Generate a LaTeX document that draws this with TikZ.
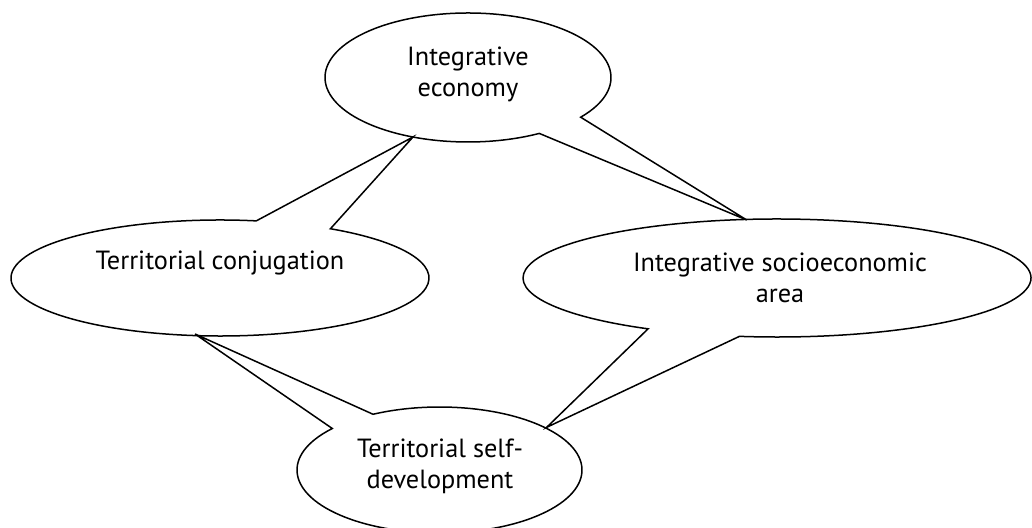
\documentclass[tikz,border=0pt]{standalone}
\usepackage{fontspec}
\setmainfont{PT Sans}
\begin{document}
\begin{tikzpicture}[x=1pt,y=1pt,
  bubble/.style={draw=black,line width=1.5pt,line join=miter},
  lbl/.style={align=center,font=\fontsize{26.3}{31}\selectfont,inner sep=0pt}]
\useasboundingbox (0,0) rectangle (1032,527);
% pixel (x,y) -> (x, 527-y)
% Top: Integrative economy, centre (468,77) rx 143 ry 64.5
\coordinate (tipE) at (746.7,307);
\draw[bubble] ([shift={(-38:143pt and 64.5pt)}]468,449.5)
  arc[start angle=-38,end angle=299.9,x radius=143pt,y radius=64.5pt] -- (tipE) -- cycle;
\node[lbl] (econ) at (468,453) {Integrative\\economy};
% Territorial conjugation, centre (220,278) rx 209 ry 58
\coordinate (tipC) at (413,390);
\draw[bubble] ([shift={(80:209pt and 58pt)}]220,249)
  arc[start angle=80,end angle=418.1,x radius=209pt,y radius=58pt] -- (tipC) -- cycle;
\node[lbl] (conj) at (220,264) {Territorial conjugation};
% Integrative socioeconomic area, centre (777,278) rx 254 ry 59
\coordinate (tipS) at (546.7,99.7);
\draw[bubble] ([shift={(-98.5:254pt and 59pt)}]777,249)
  arc[start angle=-98.5,end angle=239.5,x radius=254pt,y radius=59pt] -- (tipS) -- cycle;
\node[lbl] (socio) at (780,249.5) {Integrative socioeconomic\\area};
% Territorial self-development, centre (439.5,470) rx 142.5 ry 63
\coordinate (tipD) at (195,193);
\draw[bubble] ([shift={(138.8:142.5pt and 63pt)}]439.5,57)
  arc[start angle=138.8,end angle=477.8,x radius=142.5pt,y radius=63pt] -- (tipD) -- cycle;
\node[lbl] (dev) at (440,60.3) {Territorial self-\\development};
\end{tikzpicture}
\end{document}
